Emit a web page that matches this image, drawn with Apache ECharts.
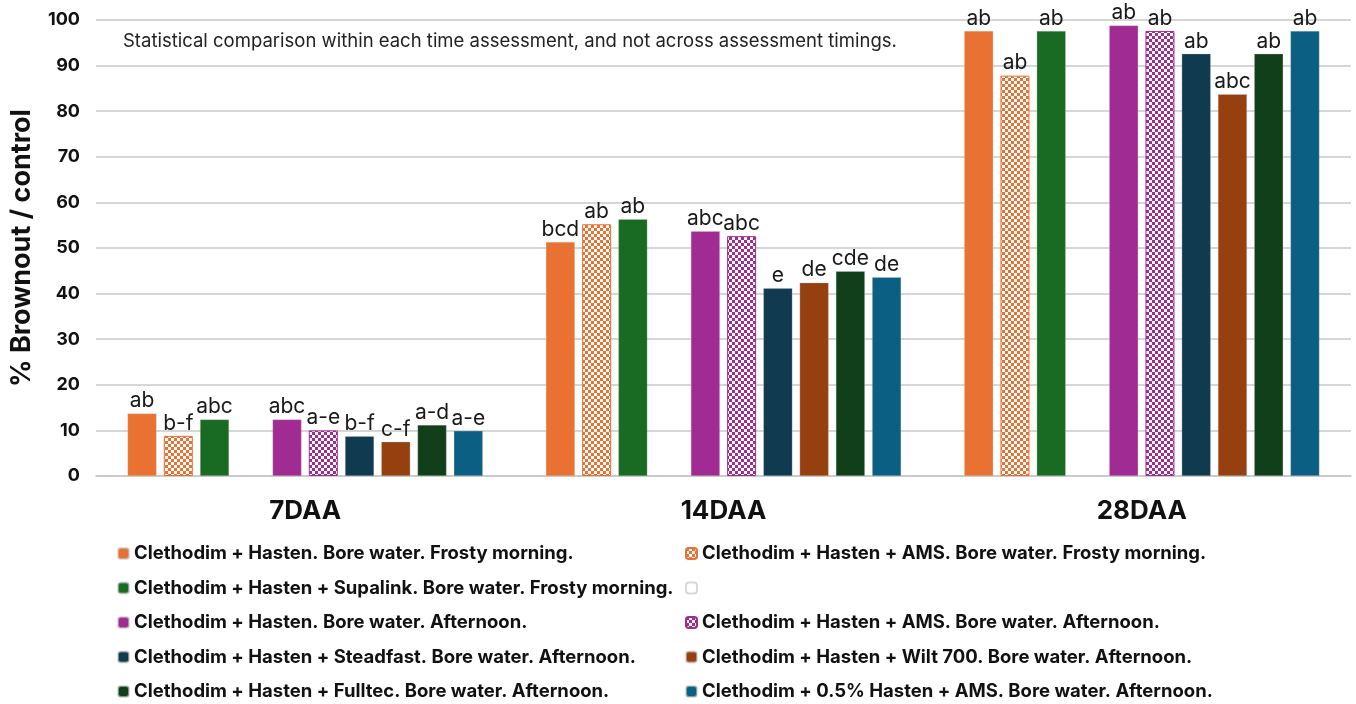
<!DOCTYPE html>
<html>
<head>
<meta charset="utf-8">
<script src="https://cdn.jsdelivr.net/npm/echarts@6/dist/echarts.min.js"></script>
<style>
  html, body { margin: 0; padding: 0; background: #fff; }
  #chart { width: 1356px; height: 704px; }
</style>
</head>
<body>
<div id="chart"></div>
<script>
// timings
var categories = ['7DAA', '14DAA', '28DAA'];

var names = [
    'Clethodim + Hasten. Bore water. Frosty morning.',
    'Clethodim + Hasten + AMS. Bore water. Frosty morning.',
    'Clethodim + Hasten + Supalink. Bore water. Frosty morning.',
    ' ',
    'Clethodim + Hasten. Bore water. Afternoon.',
    'Clethodim + Hasten + AMS. Bore water. Afternoon.',
    'Clethodim + Hasten + Steadfast. Bore water. Afternoon.',
    'Clethodim + Hasten + Wilt 700. Bore water. Afternoon.',
    'Clethodim + Hasten + Fulltec. Bore water. Afternoon.',
    'Clethodim + 0.5% Hasten + AMS. Bore water. Afternoon.'
];

// % brownout per treatment, for 7, 14, 28 DAA
var hastenFrost = [13.7, 51.3, 97.6];
var amsFrost = [8.8, 55.2, 87.8];
var supalinkFrost = [12.4, 56.3, 97.6];
var blank = [null, null, null];
var hastenPm = [12.4, 53.7, 98.8];
var amsPm = [10.0, 52.6, 97.6];
var steadfastPm = [8.7, 41.2, 92.6];
var wiltPm = [7.5, 42.4, 83.7];
var fulltecPm = [11.2, 44.9, 92.6];
var halfHastenPm = [9.9, 43.6, 97.6];

// letters of significance
var lettersHastenFrost = ['ab', 'bcd', 'ab'];
var lettersAmsFrost = ['b-f', 'ab', 'ab'];
var lettersSupalinkFrost = ['abc', 'ab', 'ab'];
var lettersBlank = ['', '', ''];
var lettersHastenPm = ['abc', 'abc', 'ab'];
var lettersAmsPm = ['a-e', 'abc', 'ab'];
var lettersSteadfastPm = ['b-f', 'e', 'ab'];
var lettersWiltPm = ['c-f', 'de', 'abc'];
var lettersFulltecPm = ['a-d', 'cde', 'ab'];
var lettersHalfHastenPm = ['a-e', 'de', 'ab'];

var yTicks = [0, 10, 20, 30, 40, 50, 60, 70, 80, 90, 100];

var values = [hastenFrost, amsFrost, supalinkFrost, blank, hastenPm, amsPm, steadfastPm, wiltPm, fulltecPm, halfHastenPm];
var letters = [lettersHastenFrost, lettersAmsFrost, lettersSupalinkFrost, lettersBlank, lettersHastenPm, lettersAmsPm, lettersSteadfastPm, lettersWiltPm, lettersFulltecPm, lettersHalfHastenPm];
var colors = ['#E97132', '#E97132', '#196B24', '#ffffff', '#A02B93', '#A02B93', '#0F3A4F', '#96400F', '#113F19', '#0B5F83'];
var checkered = [false, true, false, false, false, true, false, false, false, false];

function checker(color) {
    var c = document.createElement('canvas');
    c.width = 6;
    c.height = 6;
    var ctx = c.getContext('2d');
    ctx.fillStyle = '#fff';
    ctx.fillRect(0, 0, 6, 6);
    ctx.fillStyle = color;
    ctx.fillRect(0, 0, 3, 3);
    ctx.fillRect(3, 3, 3, 3);
    return c;
}

var FONT = 'Inter, "Noto Sans", sans-serif';

var series = [];
for (var i = 0; i < names.length; i++) {
    var itemStyle;
    if (i === 3) {
        itemStyle = {color: '#fff', borderColor: '#d8d8d8', borderWidth: 1};
    } else if (checkered[i]) {
        itemStyle = {color: {image: checker(colors[i]), repeat: 'repeat'}, borderColor: colors[i], borderWidth: 1};
    } else {
        itemStyle = {color: colors[i], borderColor: 'rgba(200,200,200,0.6)', borderWidth: 0.5};
    }
    (function (lab) {
        series.push({
            name: names[i],
            type: 'bar',
            barWidth: 29,
            barGap: '25%',
            data: values[i],
            itemStyle: itemStyle,
            label: {
                show: true,
                position: 'top',
                distance: 2,
                fontFamily: FONT,
                fontSize: 21,
                color: '#1a1a1a',
                formatter: function (p) { return lab[p.dataIndex]; }
            }
        });
    })(letters[i]);
}

var legendText = {fontFamily: FONT, fontSize: 18.5, fontWeight: 'bold', color: '#111', lineHeight: 18.5};

var option = {
    animation: false,
    backgroundColor: '#fff',
    grid: {left: 96, right: 5, top: 20, bottom: 228, outerBoundsMode: 'none', containLabel: false},
    graphic: [{
        type: 'text',
        left: 123,
        top: 32,
        style: {
            text: 'Statistical comparison within each time assessment, and not across assessment timings.',
            font: '18.5px ' + FONT,
            fill: '#222'
        }
    }],
    legend: [{
        orient: 'vertical',
        left: 112,
        top: 539,
        height: 170,
        itemWidth: 11,
        itemHeight: 11,
        itemGap: 15.5,
        textStyle: legendText,
        data: [names[0], names[2], names[4], names[6], names[8]]
    }, {
        orient: 'vertical',
        left: 680,
        top: 539,
        height: 170,
        itemWidth: 11,
        itemHeight: 11,
        itemGap: 15.5,
        textStyle: legendText,
        data: [names[1], names[3], names[5], names[7], names[9]]
    }],
    xAxis: {
        type: 'category',
        data: categories,
        axisTick: {show: false},
        axisLine: {lineStyle: {color: '#c8c8c8', width: 1.5}},
        axisLabel: {margin: 22, fontFamily: FONT, fontSize: 26, fontWeight: 'bold', color: '#111'}
    },
    yAxis: {
        type: 'value',
        min: yTicks[0],
        max: yTicks[yTicks.length - 1],
        interval: 10,
        name: '% Brownout / control',
        nameLocation: 'middle',
        nameGap: 61,
        nameTextStyle: {fontFamily: FONT, fontSize: 27, fontWeight: 'bold', color: '#111'},
        axisLine: {show: false},
        axisTick: {show: false},
        axisLabel: {margin: 16, fontFamily: FONT, fontSize: 18, fontWeight: 'bold', color: '#111'},
        splitLine: {lineStyle: {color: '#c8c8c8', width: 1.5}}
    },
    series: series
};

var myChart = echarts.init(document.getElementById('chart'));
myChart.setOption(option);
</script>
</body>
</html>
